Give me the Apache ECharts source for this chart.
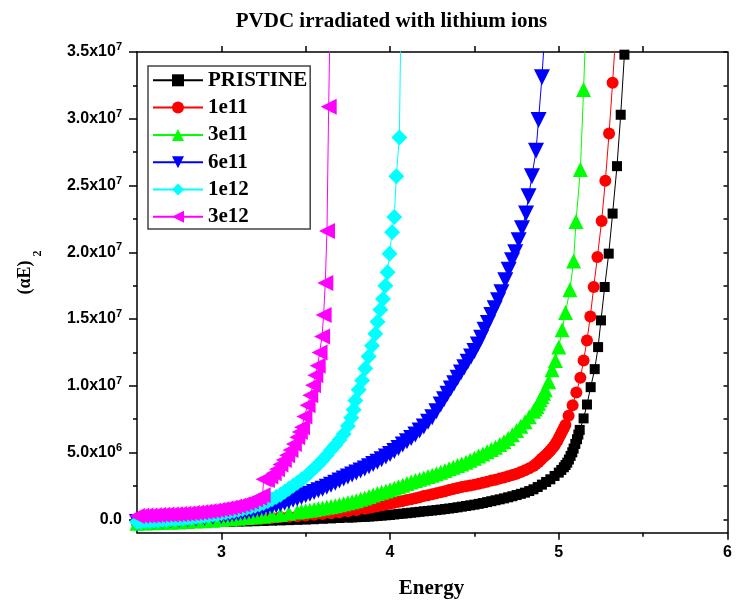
<!DOCTYPE html>
<html>
<head>
<meta charset="utf-8">
<script src="https://cdn.jsdelivr.net/npm/echarts@6/dist/echarts.min.js"></script>
<style>
html,body{margin:0;padding:0;background:#fff;}
#chart{width:736px;height:602px;}
</style>
</head>
<body>
<div id="chart"></div>
<script>
// ---- data: [energy (eV), (alpha E)^2 in units of 1e6] ----
const seriesNames = ['PRISTINE', '1e11', '3e11', '6e11', '1e12', '3e12'];

const pristine = [[2.50,-0.30],[2.55,-0.29],[2.60,-0.28],[2.65,-0.27],[2.70,-0.26],[2.75,-0.25],[2.80,-0.24],[2.85,-0.23],[2.90,-0.22],[2.95,-0.21],[3.00,-0.20],[3.05,-0.19],[3.10,-0.17],[3.15,-0.16],[3.20,-0.14],[3.25,-0.12],[3.30,-0.10],[3.35,-0.08],[3.40,-0.06],[3.45,-0.04],[3.50,-0.02],[3.55,0.01],[3.60,0.04],[3.65,0.07],[3.70,0.10],[3.75,0.13],
  [3.775,0.145],[3.80,0.16],[3.825,0.175],[3.85,0.19],[3.875,0.21],[3.90,0.23],[3.925,0.255],[3.95,0.28],[3.975,0.305],[4.00,0.33],[4.025,0.365],[4.05,0.40],[4.075,0.43],[4.10,0.46],[4.125,0.495],[4.15,0.53],[4.175,0.565],[4.20,0.60],[4.225,0.63],[4.25,0.66],[4.275,0.695],[4.30,0.73],[4.325,0.77],[4.35,0.81],[4.375,0.855],[4.40,0.90],[4.425,0.95],[4.45,1.00],[4.475,1.05],[4.50,1.10],[4.525,1.16],[4.55,1.22],[4.575,1.29],[4.60,1.36],[4.625,1.43],[4.65,1.50],[4.675,1.57],[4.70,1.65],[4.725,1.73],[4.75,1.82],[4.775,1.91],[4.80,2.00],[4.825,2.12],[4.85,2.25],[4.875,2.42],[4.90,2.60],[4.925,2.80],[4.95,3.00],[4.975,3.25],[5.00,3.50],[5.015,3.70],[5.03,3.90],[5.04,4.07],[5.05,4.25],[5.06,4.48],[5.07,4.75],[5.08,5.02],[5.088,5.30],[5.098,5.65],[5.108,6.00],[5.116,6.35],[5.124,6.70],
  [5.147,7.56],[5.167,8.60],[5.189,9.90],[5.213,11.25],[5.233,12.90],[5.250,14.90],[5.272,17.40],[5.296,19.90],[5.319,22.90],[5.345,26.45],[5.367,30.30],[5.389,34.80],[5.41,39.5]];

const dose1e11 = [[2.50,-0.30],[2.55,-0.28],[2.60,-0.26],[2.65,-0.25],[2.70,-0.23],[2.75,-0.21],[2.80,-0.19],[2.85,-0.17],[2.90,-0.15],[2.95,-0.12],[3.00,-0.10],[3.05,-0.07],[3.10,-0.04],[3.15,-0.01],[3.20,0.03],[3.25,0.07],[3.30,0.11],[3.35,0.15],[3.40,0.19],[3.45,0.24],[3.50,0.29],[3.55,0.34],[3.60,0.40],[3.65,0.46],[3.70,0.53],[3.75,0.61],[3.80,0.70],[3.85,0.80],
  [3.875,0.86],[3.90,0.92],[3.925,0.98],[3.95,1.05],[3.975,1.11],[4.00,1.18],[4.025,1.24],[4.05,1.31],[4.075,1.37],[4.10,1.44],[4.125,1.51],[4.15,1.58],[4.175,1.66],[4.20,1.74],[4.225,1.81],[4.25,1.88],[4.275,1.95],[4.30,2.03],[4.325,2.11],[4.35,2.19],[4.375,2.27],[4.40,2.35],[4.425,2.42],[4.45,2.48],[4.475,2.54],[4.50,2.60],[4.525,2.67],[4.55,2.74],[4.575,2.82],[4.60,2.90],[4.625,2.97],[4.65,3.05],[4.675,3.13],[4.70,3.22],[4.725,3.32],[4.75,3.42],[4.775,3.54],[4.80,3.68],[4.825,3.83],[4.85,4.00],[4.865,4.14],[4.88,4.30],[4.89,4.42],[4.90,4.55],[4.915,4.72],[4.93,4.90],[4.94,5.02],[4.95,5.15],[4.96,5.30],[4.97,5.45],[4.98,5.65],[4.99,5.85],[5.00,6.10],[5.01,6.33],[5.019,6.56],[5.029,6.80],[5.039,7.06],
  [5.058,7.75],[5.082,8.55],[5.104,9.50],[5.128,10.60],[5.147,11.90],[5.167,13.40],[5.187,15.20],[5.207,17.40],[5.229,19.65],[5.254,22.35],[5.276,25.35],[5.298,28.90],[5.319,32.70],[5.338,36.5]];

const dose3e11 = [[2.50,-0.30],[2.55,-0.28],[2.60,-0.26],[2.65,-0.24],[2.70,-0.22],[2.75,-0.19],[2.80,-0.16],[2.85,-0.13],[2.90,-0.10],[2.95,-0.06],[3.00,-0.02],[3.05,0.03],[3.10,0.08],[3.15,0.13],[3.20,0.18],[3.25,0.24],[3.30,0.30],[3.35,0.37],[3.40,0.45],[3.45,0.55],
  [3.475,0.60],[3.50,0.64],[3.525,0.69],[3.55,0.74],[3.575,0.79],[3.60,0.85],[3.625,0.90],[3.65,0.96],[3.675,1.02],[3.70,1.09],[3.725,1.16],[3.75,1.24],[3.775,1.32],[3.80,1.40],[3.825,1.50],[3.85,1.60],[3.875,1.71],[3.90,1.82],[3.925,1.93],[3.95,2.03],[3.975,2.12],[4.00,2.22],[4.025,2.33],[4.05,2.45],[4.075,2.56],[4.10,2.68],[4.125,2.79],[4.15,2.90],[4.175,3.00],[4.20,3.10],[4.225,3.20],[4.25,3.30],[4.275,3.41],[4.30,3.52],[4.325,3.65],[4.35,3.78],[4.375,3.90],[4.40,4.03],[4.425,4.15],[4.45,4.28],[4.475,4.43],[4.50,4.58],[4.525,4.74],[4.55,4.90],[4.575,5.06],[4.60,5.23],[4.625,5.40],[4.65,5.60],[4.675,5.82],[4.70,6.05],[4.725,6.33],[4.75,6.65],[4.775,6.97],[4.80,7.30],[4.825,7.68],[4.85,8.10],[4.86,8.27],[4.87,8.45],[4.88,8.70],[4.89,8.95],[4.90,9.20],[4.91,9.45],
  [4.92,9.70],[4.94,10.3],[4.96,11.2],[4.98,11.9],[5.00,12.9],[5.02,14.2],[5.04,15.5],[5.066,17.2],[5.088,19.35],[5.102,22.3],[5.128,26.2],[5.147,32.2],[5.162,37.5]];

const dose6e11 = [[2.50,-0.20],[2.55,-0.17],[2.60,-0.14],[2.65,-0.10],[2.70,-0.07],[2.75,-0.03],[2.80,0.01],[2.85,0.06],[2.90,0.12],[2.95,0.19],
  [3.00,0.26],[3.025,0.30],[3.05,0.34],[3.075,0.39],[3.10,0.44],[3.125,0.49],[3.15,0.55],[3.175,0.61],[3.20,0.68],[3.225,0.75],[3.25,0.82],[3.275,0.90],[3.30,0.98],[3.325,1.06],[3.35,1.15],[3.375,1.25],[3.40,1.35],[3.425,1.46],[3.45,1.57],[3.475,1.68],[3.50,1.80],[3.525,1.92],[3.55,2.05],[3.575,2.17],[3.60,2.30],[3.625,2.45],[3.65,2.60],[3.675,2.75],[3.70,2.90],[3.725,3.05],[3.75,3.20],[3.775,3.35],[3.80,3.50],[3.825,3.65],[3.85,3.80],[3.875,3.97],[3.90,4.15],[3.925,4.32],[3.95,4.50],[3.975,4.70],[4.00,4.90],[4.025,5.12],[4.05,5.35],[4.075,5.60],[4.10,5.85],[4.125,6.10],[4.15,6.35],[4.175,6.65],[4.20,6.95],[4.225,7.30],[4.25,7.65],[4.275,8.10],[4.30,8.60],[4.32,9.00],[4.34,9.40],[4.36,9.80],[4.38,10.2],[4.40,10.6],[4.42,11.0],[4.44,11.4],[4.46,11.8],[4.48,12.2],[4.50,12.6],[4.52,13.1],[4.54,13.6],[4.56,14.2],[4.58,14.7],[4.60,15.3],[4.62,15.8],[4.64,16.4],[4.66,17.0],
  [4.683,17.9],[4.703,18.7],[4.723,19.4],[4.742,20.0],[4.762,20.9],[4.782,21.8],[4.806,22.9],[4.821,24.2],[4.841,25.7],[4.865,27.6],[4.88,29.9],[4.90,33.1],[4.925,38.0]];

const dose1e12 = [[2.50,-0.20],[2.525,-0.18],[2.55,-0.15],[2.575,-0.13],[2.60,-0.10],[2.625,-0.08],[2.65,-0.05],[2.675,-0.03],[2.70,0.00],[2.725,0.02],[2.75,0.05],[2.775,0.07],[2.80,0.10],[2.825,0.13],[2.85,0.17],[2.875,0.21],[2.90,0.25],[2.925,0.29],[2.95,0.34],[2.975,0.39],[3.00,0.45],[3.025,0.51],[3.05,0.57],[3.075,0.63],[3.10,0.70],[3.125,0.77],[3.15,0.85],[3.175,0.93],[3.20,1.02],[3.225,1.11],[3.25,1.22],[3.275,1.35],[3.30,1.50],[3.325,1.67],[3.35,1.85],[3.375,2.06],[3.40,2.30],[3.425,2.52],[3.45,2.75],[3.475,2.98],[3.50,3.20],[3.525,3.50],[3.55,3.80],[3.575,4.10],[3.60,4.45],[3.625,4.80],[3.65,5.20],[3.675,5.55],[3.70,5.95],[3.725,6.40],[3.75,7.00],[3.77,7.60],
  [3.784,8.20],[3.794,8.90],[3.814,9.70],[3.834,10.4],[3.853,11.3],[3.873,12.2],[3.893,13.0],[3.913,13.9],[3.926,14.8],[3.942,15.7],[3.958,16.5],[3.972,17.5],[3.985,18.5],[3.997,19.9],[4.012,21.5],[4.025,22.65],[4.037,25.7],[4.055,28.6],[4.065,38.0]];

const dose3e12 = [[2.50,0.25],[2.525,0.265],[2.55,0.28],[2.575,0.295],[2.60,0.31],[2.625,0.325],[2.65,0.34],[2.675,0.355],[2.70,0.37],[2.725,0.385],[2.75,0.40],[2.775,0.42],[2.80,0.44],[2.825,0.47],[2.85,0.50],[2.875,0.53],[2.90,0.57],[2.925,0.61],[2.95,0.65],[2.975,0.70],[3.00,0.75],[3.025,0.81],[3.05,0.87],[3.075,0.94],[3.10,1.02],[3.125,1.11],[3.15,1.22],[3.175,1.34],[3.20,1.48],[3.225,1.62],[3.245,1.80],
  [3.25,3.00],[3.27,2.95],[3.29,3.20],[3.31,3.45],[3.33,3.75],[3.35,4.10],[3.37,4.45],[3.39,4.80],[3.41,5.20],[3.43,5.65],[3.45,6.15],[3.465,6.55],[3.478,6.90],[3.492,7.70],[3.511,8.55],[3.527,9.30],[3.543,10.05],[3.557,10.8],[3.571,11.5],[3.582,12.5],[3.597,13.7],[3.606,15.3],[3.616,17.7],[3.626,21.6],[3.636,30.9],[3.648,40.0]];

// tick labels
const xTickValues = [3, 4, 5, 6];
const xTickLabels = ['3', '4', '5', '6'];
const xMinorTicks = [3.5, 4.5, 5.5];
const yTickValues = [0, 5, 10, 15, 20, 25, 30, 35];
const yTickMantissa = ['0.0', '5.0x10', '1.0x10', '1.5x10', '2.0x10', '2.5x10', '3.0x10', '3.5x10'];
const yTickExponent = ['', '6', '7', '7', '7', '7', '7', '7'];
const yMinorTicks = [2.5, 7.5, 12.5, 17.5, 22.5, 27.5, 32.5];
const yRightTicks = [0, 2.5, 5, 7.5, 10, 12.5, 15, 17.5, 20, 22.5, 25, 27.5, 30, 32.5, 35];

const colors = ['#000000', '#ff0000', '#00ff00', '#0000ff', '#00ffff', '#ff00ff'];
const symbols = ['rect', 'circle', 'triangle', 'triangle', 'diamond', 'triangle'];
const rotations = [0, 0, 0, 180, 0, 90];
const sizes = [10, 12, 15, 16, 16, 16];
const allData = [pristine, dose1e11, dose3e11, dose6e11, dose1e12, dose3e12];

const SERIF = "'Liberation Serif', 'Times New Roman', serif";
const SANS = "'Liberation Sans', Arial, sans-serif";

const chart = echarts.init(document.getElementById('chart'), null, {renderer: 'canvas'});

const series = seriesNames.map((name, i) => ({
  name: name,
  type: 'line',
  data: allData[i],
  xAxisIndex: 0,
  yAxisIndex: 0,
  symbol: symbols[i],
  symbolSize: sizes[i],
  symbolRotate: rotations[i],
  showAllSymbol: true,
  clip: true,
  color: colors[i],
  lineStyle: {color: colors[i], width: 1},
  itemStyle: {color: colors[i], borderWidth: 0},
  emphasis: {disabled: true},
  animation: false
}));

const axisLineStyle = {color: '#000', width: 1.5};

const option = {
  backgroundColor: '#ffffff',
  animation: false,
  grid: {left: 137, right: 8.5, top: 52, bottom: 69.3, containLabel: false},
  legend: {
    data: seriesNames,
    orient: 'vertical',
    left: 148,
    top: 66,
    padding: [3.8, 3, 1.7, 4],
    itemGap: 6.3,
    itemWidth: 50,
    itemHeight: 15,
    borderColor: '#444',
    borderWidth: 1.5,
    selectedMode: false,
    textStyle: {fontFamily: SERIF, fontWeight: 'bold', fontSize: 21, color: '#000'}
  },
  xAxis: [
    {
      type: 'value', min: 2.5, max: 6, position: 'bottom',
      axisLine: {show: true, onZero: false, lineStyle: axisLineStyle},
      axisTick: {show: true, customValues: xTickValues, length: 7, lineStyle: axisLineStyle},
      axisLabel: {
        show: true, customValues: xTickValues, margin: 12,
        formatter: (v) => xTickLabels[xTickValues.indexOf(v)],
        fontFamily: SANS, fontWeight: 'bold', fontSize: 16, color: '#000'
      },
      splitLine: {show: false}
    },
    {
      type: 'value', min: 2.5, max: 6, position: 'bottom',
      axisLine: {show: false, onZero: false},
      axisTick: {show: true, customValues: xMinorTicks, length: 4, lineStyle: axisLineStyle},
      axisLabel: {show: false},
      splitLine: {show: false}
    },
    {
      type: 'value', min: 2.5, max: 6, position: 'top',
      axisLine: {show: true, onZero: false, lineStyle: axisLineStyle},
      axisTick: {show: true, customValues: [3, 3.5, 4, 4.5, 5, 5.5], length: 6, lineStyle: axisLineStyle},
      axisLabel: {show: false},
      splitLine: {show: false}
    }
  ],
  yAxis: [
    {
      type: 'value', min: -1, max: 35, position: 'left',
      axisLine: {show: true, onZero: false, lineStyle: axisLineStyle},
      axisTick: {show: true, customValues: yTickValues, length: 8, lineStyle: axisLineStyle},
      axisLabel: {
        show: true, customValues: yTickValues, margin: 15,
        formatter: (v) => {
          const k = yTickValues.indexOf(v);
          const e = yTickExponent[k];
          return e ? '{a|' + yTickMantissa[k] + '}{s|' + e + '}' : '{a|' + yTickMantissa[k] + '}';
        },
        rich: {
          a: {fontFamily: SANS, fontWeight: 'bold', fontSize: 16, color: '#000'},
          s: {fontFamily: SANS, fontWeight: 'bold', fontSize: 11, color: '#000', padding: [0, 0, 10, 0]}
        }
      },
      splitLine: {show: false}
    },
    {
      type: 'value', min: -1, max: 35, position: 'left',
      axisLine: {show: false, onZero: false},
      axisTick: {show: true, customValues: yMinorTicks, length: 4, lineStyle: axisLineStyle},
      axisLabel: {show: false},
      splitLine: {show: false}
    },
    {
      type: 'value', min: -1, max: 35, position: 'right',
      axisLine: {show: true, onZero: false, lineStyle: axisLineStyle},
      axisTick: {show: true, inside: true, customValues: yRightTicks, length: 4, lineStyle: axisLineStyle},
      axisLabel: {show: false},
      splitLine: {show: false}
    }
  ],
  graphic: [
    {
      type: 'text', x: 391.5, y: 22,
      style: {text: 'PVDC irradiated with lithium ions', font: 'bold 21px ' + SERIF, fill: '#000', align: 'center', verticalAlign: 'middle'}
    },
    {
      type: 'text', x: 431.5, y: 589,
      style: {text: 'Energy', font: 'bold 21px ' + SERIF, fill: '#000', align: 'center', verticalAlign: 'middle'}
    },
    {
      type: 'text', x: 25, y: 277.5, rotation: Math.PI / 2,
      style: {text: '(αE)', font: 'bold 18px ' + SERIF, fill: '#000', align: 'center', verticalAlign: 'middle'}
    },
    {
      type: 'text', x: 37.5, y: 253.5, rotation: Math.PI / 2,
      style: {text: '2', font: 'bold 12px ' + SERIF, fill: '#000', align: 'center', verticalAlign: 'middle'}
    }
  ],
  series: series
};

chart.setOption(option);
</script>
</body>
</html>
